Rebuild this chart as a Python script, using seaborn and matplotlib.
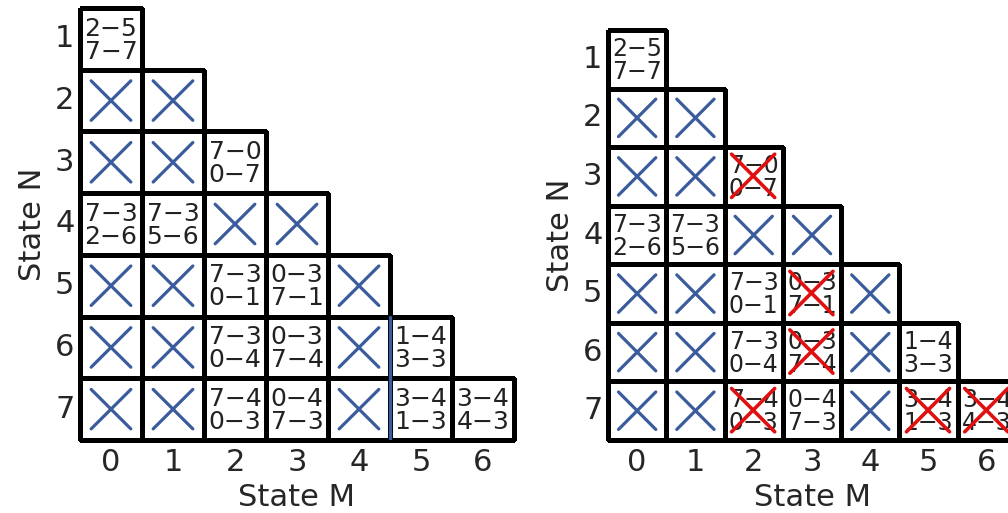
import numpy as np
import pandas as pd
import matplotlib
matplotlib.use("Agg")
import matplotlib.pyplot as plt
from matplotlib.colors import ListedColormap
import seaborn as sns

sns.set_style("white")
plt.rcParams['font.family'] = ['DejaVu Sans']

# table of state pairs: row N (1..7), column M (0..N-1)
state_n = [1, 2, 3, 4, 5, 6, 7]
state_m = [0, 1, 2, 3, 4, 5, 6]
cells = [
    ["2−5\n7−7"],
    ["X", "X"],
    ["X", "X", "7−0\n0−7"],
    ["7−3\n2−6", "7−3\n5−6", "X", "X"],
    ["X", "X", "7−3\n0−1", "0−3\n7−1", "X"],
    ["X", "X", "7−3\n0−4", "0−3\n7−4", "X", "1−4\n3−3"],
    ["X", "X", "7−4\n0−3", "0−4\n7−3", "X", "3−4\n1−3", "3−4\n4−3"],
]
# pairs crossed out in the second pass (N, M)
red_marks = [(3, 2), (5, 3), (6, 3), (7, 2), (7, 5), (7, 6)]
# stray blue edge seen in the first table (M boundary, N from, N to)
blue_edge = (5, 6, 7)

blue = "#3b5c9c"
red = "#e01010"

vals = np.zeros((len(state_n), len(state_m)))
mask = np.ones_like(vals, dtype=bool)
for i, row in enumerate(cells):
    mask[i, :len(row)] = False
df = pd.DataFrame(vals, index=state_n, columns=state_m)

fig = plt.figure(figsize=(10.08, 5.13), dpi=100)
W, H = 1008, 513
ax1 = fig.add_axes([80 / W, (H - 440) / H, 434 / W, 432 / H])
ax2 = fig.add_axes([608 / W, (H - 440) / H, 408 / W, 410 / H])


def draw_x(ax, i, j, color, a=0.18, b=0.82, lw=2.3):
    ax.plot([j + a, j + b], [i + a, i + b], color=color, lw=lw, solid_capstyle="round", zorder=4)
    ax.plot([j + a, j + b], [i + b, i + a], color=color, lw=lw, solid_capstyle="round", zorder=4)


def table(ax, reds, fs):
    sns.heatmap(df, mask=mask, cmap=ListedColormap(["white"]), cbar=False,
                linewidths=2.2, linecolor="black", ax=ax)
    # hide the edges of the masked (upper) cells, keep outer edges unclipped
    mesh = ax.collections[0]
    ec = np.zeros((mask.size, 4))
    ec[~mask.ravel(), 3] = 1.0
    mesh.set_edgecolor(ec)
    mesh.set_clip_on(False)
    for i, row in enumerate(cells):
        for j, txt in enumerate(row):
            if txt == "X":
                draw_x(ax, i, j, blue)
            else:
                ax.text(j + 0.5, i + 0.52, txt, ha="center", va="center",
                        fontsize=fs, linespacing=0.95, color="#222222", zorder=3)
    for n, m in reds:
        draw_x(ax, state_n.index(n), m, red, a=0.12, b=0.86, lw=2.6)
    ax.set_xlabel("State M", fontsize=22, labelpad=4)
    ax.set_ylabel("State N", fontsize=22, labelpad=6)
    ax.tick_params(axis="both", length=0, labelsize=22)
    ax.tick_params(axis="x", pad=6)
    ax.tick_params(axis="y", pad=4)
    ax.set_yticklabels(state_n, rotation=0)
    ax.set_xticklabels(state_m, rotation=0)


table(ax1, [], 18)
m0, n0, n1 = blue_edge
ax1.plot([m0, m0], [state_n.index(n0), state_n.index(n1) + 1], color=blue, lw=2.3, zorder=5)
table(ax2, red_marks, 17)

fig.savefig("out.png", dpi=100)
